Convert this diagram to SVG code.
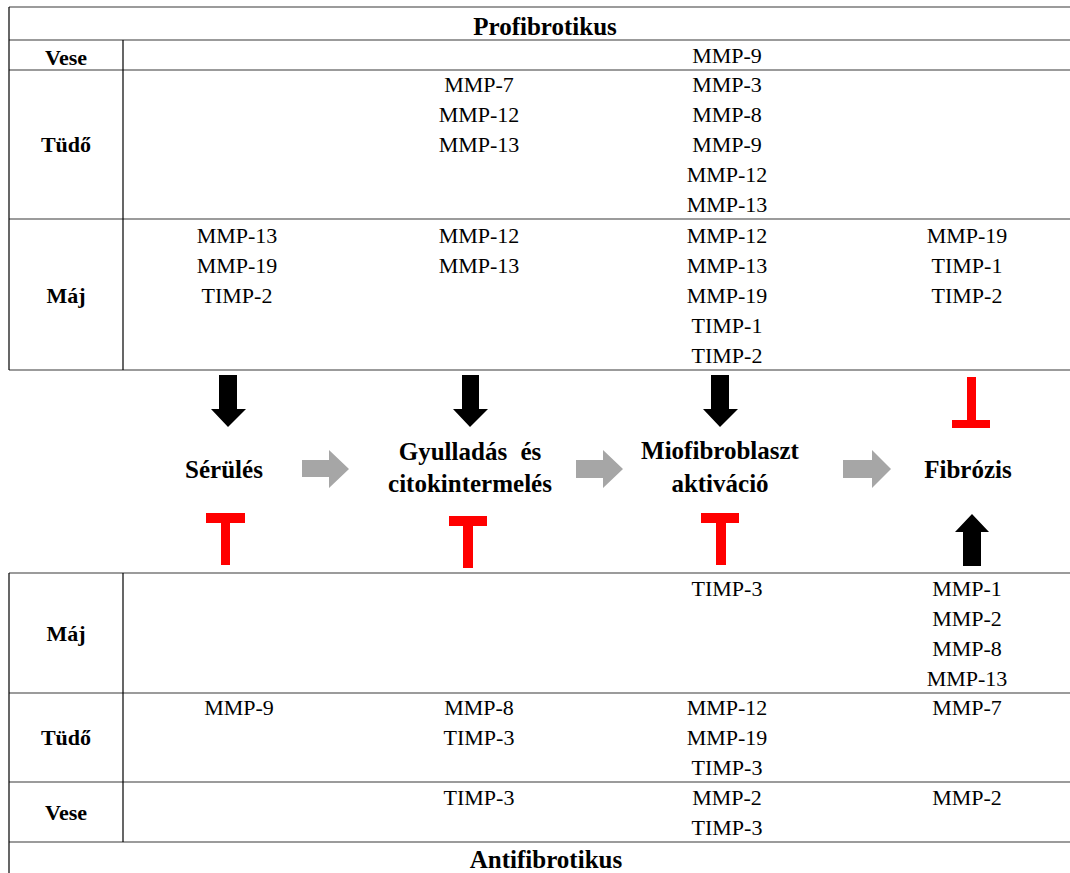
<svg xmlns="http://www.w3.org/2000/svg" width="1070" height="873" viewBox="0 0 1070 873" font-family="Liberation Serif, Times New Roman, serif" text-anchor="middle">
<style>
.h{stroke:#7a7a7a;stroke-width:1.6;fill:none}
.v{stroke:#000;stroke-width:1.2;fill:none}
.t{font-size:22px;fill:#000}
.lb{font-size:22px;font-weight:bold;fill:#000}
.big{font-size:25px;font-weight:bold;fill:#000}
.blk{fill:#000}
.gry{fill:#a6a6a6}
.red{fill:#ff0000}
</style>
<rect width="1070" height="873" fill="#fff"/>
<g id="table-top">
<line class="h" x1="9" y1="7" x2="1070" y2="7"/>
<line class="h" x1="9" y1="40" x2="1070" y2="40"/>
<line class="h" x1="9" y1="70" x2="1070" y2="70"/>
<line class="h" x1="9" y1="219" x2="1070" y2="219"/>
<line class="h" x1="9" y1="370" x2="1070" y2="370"/>
<line class="v" x1="9" y1="7" x2="9" y2="370"/>
<line class="v" x1="123" y1="40" x2="123" y2="370"/>
<text class="big" x="545" y="35">Profibrotikus</text>
<text class="lb" x="66" y="65">Vese</text>
<text class="lb" x="66" y="152">Tüdő</text>
<text class="lb" x="66" y="303">Máj</text>
<text class="t" x="727" y="63">MMP-9</text>
<text class="t" x="479" y="92">MMP-7</text>
<text class="t" x="479" y="122">MMP-12</text>
<text class="t" x="479" y="152">MMP-13</text>
<text class="t" x="727" y="92">MMP-3</text>
<text class="t" x="727" y="122">MMP-8</text>
<text class="t" x="727" y="152">MMP-9</text>
<text class="t" x="727" y="182">MMP-12</text>
<text class="t" x="727" y="212">MMP-13</text>
<text class="t" x="237" y="243">MMP-13</text>
<text class="t" x="237" y="273">MMP-19</text>
<text class="t" x="237" y="303">TIMP-2</text>
<text class="t" x="479" y="243">MMP-12</text>
<text class="t" x="479" y="273">MMP-13</text>
<text class="t" x="727" y="243">MMP-12</text>
<text class="t" x="727" y="273">MMP-13</text>
<text class="t" x="727" y="303">MMP-19</text>
<text class="t" x="727" y="333">TIMP-1</text>
<text class="t" x="727" y="363">TIMP-2</text>
<text class="t" x="967" y="243">MMP-19</text>
<text class="t" x="967" y="273">TIMP-1</text>
<text class="t" x="967" y="303">TIMP-2</text>
</g>
<g id="table-bottom">
<line class="h" x1="9" y1="573" x2="1070" y2="573"/>
<line class="h" x1="9" y1="693" x2="1070" y2="693"/>
<line class="h" x1="9" y1="782" x2="1070" y2="782"/>
<line class="h" x1="9" y1="842" x2="1070" y2="842"/>
<line class="v" x1="9" y1="573" x2="9" y2="873"/>
<line class="v" x1="123" y1="573" x2="123" y2="842"/>
<text class="lb" x="66" y="641">Máj</text>
<text class="lb" x="66" y="745">Tüdő</text>
<text class="lb" x="66" y="820">Vese</text>
<text class="t" x="727" y="596">TIMP-3</text>
<text class="t" x="967" y="596">MMP-1</text>
<text class="t" x="967" y="626">MMP-2</text>
<text class="t" x="967" y="656">MMP-8</text>
<text class="t" x="967" y="686">MMP-13</text>
<text class="t" x="239" y="715">MMP-9</text>
<text class="t" x="479" y="715">MMP-8</text>
<text class="t" x="479" y="745">TIMP-3</text>
<text class="t" x="727" y="715">MMP-12</text>
<text class="t" x="727" y="745">MMP-19</text>
<text class="t" x="727" y="775">TIMP-3</text>
<text class="t" x="967" y="715">MMP-7</text>
<text class="t" x="479" y="805">TIMP-3</text>
<text class="t" x="727" y="805">MMP-2</text>
<text class="t" x="727" y="835">TIMP-3</text>
<text class="t" x="967" y="805">MMP-2</text>
<text class="big" x="546" y="868">Antifibrotikus</text>
</g>
<g id="node-serules"><text class="big" x="224" y="478">Sérülés</text></g>
<g id="node-gyulladas"><text class="big" x="470" y="460" word-spacing="7">Gyulladás és</text><text class="big" x="470" y="492">citokintermelés</text></g>
<g id="node-miofibroblaszt"><text class="big" x="720" y="459">Miofibroblaszt</text><text class="big" x="720" y="492">aktiváció</text></g>
<g id="node-fibrozis"><text class="big" x="968" y="478">Fibrózis</text></g>
<g id="connectors">
<polygon class="blk" points="219,375 237,375 237,409 246,409 228,427 211,409 219,409"/>
<polygon class="blk" points="462,375 479,375 479,409 488,409 470,427 453,409 462,409"/>
<polygon class="blk" points="711,375 729,375 729,409 738,409 720,427 703,409 711,409"/>
<polygon class="gry" points="302,460 329,460 329,450 349,469 329,488 329,477 302,477"/>
<polygon class="gry" points="576,460 603,460 603,450 623,469 603,488 603,478 576,478"/>
<polygon class="gry" points="843,460 872,460 872,450 891,469 872,488 872,478 843,478"/>
<path class="red" d="M206,513H245V523H230V565H221V523H206Z"/>
<path class="red" d="M449,516H487V526H473V568H463V526H449Z"/>
<path class="red" d="M701,513H739V523H726V565H716V523H701Z"/>
<path class="red" d="M967,377H976V420H990V428H952V420H967Z"/>
<polygon class="blk" points="972,514 989,532 981,532 981,566 963,566 963,532 955,532"/>
</g>
</svg>
